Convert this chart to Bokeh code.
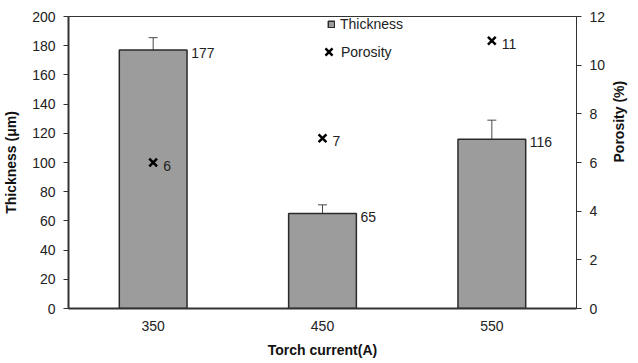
import math
from bokeh.plotting import figure
from bokeh.models import (FactorRange, Range1d, LinearAxis, ColumnDataSource, LabelSet,
                          Whisker, TeeHead, Legend, LegendItem, FixedTicker)
from bokeh.core.properties import value
from bokeh.embed import file_html
from bokeh.resources import INLINE

currents = ["350", "450", "550"]
thickness = [177, 65, 116]
thickness_err = [8.5, 6, 13]
porosity = [6, 7, 11]

FONT = "Liberation Sans"

src = ColumnDataSource(dict(
    x=currents, t=thickness,
    upper=[t + e for t, e in zip(thickness, thickness_err)],
    lower=[t - e for t, e in zip(thickness, thickness_err)],
    tl=[str(v) for v in thickness],
    p=porosity, pl=[str(v) for v in porosity],
))

p = figure(width=638, height=361, x_range=FactorRange(*currents), y_range=Range1d(0, 200),
           output_backend="svg", toolbar_location=None,
           min_border_left=67, min_border_right=55, min_border_top=16, min_border_bottom=53)
p.extra_y_ranges = {"por": Range1d(0, 12)}

bars = p.vbar(x="x", top="t", width=0.4, source=src, fill_color="#9c9c9c",
              line_color="#2a2a2a", line_width=1.5)
w = Whisker(base="x", upper="upper", lower="lower", source=src,
            line_color="#4a4a4a", line_width=1,
            upper_head=TeeHead(size=9, line_color="#4a4a4a", line_width=1),
            lower_head=TeeHead(size=9, line_color="#4a4a4a", line_width=1))
p.add_layout(w)
marks = p.scatter(x="x", y="p", source=src, y_range_name="por", marker="x",
                  size=11, line_color="black", line_width=2.5)

p.add_layout(LabelSet(x="x", y="t", text="tl", source=src, x_offset=38, y_offset=-8,
                      text_font=value(FONT), text_font_size="14px", text_color="#222"))
p.add_layout(LabelSet(x="x", y="p", text="pl", source=src, y_range_name="por",
                      x_offset=10, y_offset=-8,
                      text_font=value(FONT), text_font_size="14px", text_color="#222"))

leg1 = Legend(items=[LegendItem(label="Thickness", renderers=[bars])],
              location=(259, 274), background_fill_alpha=0, border_line_color=None,
              label_text_font=FONT, label_text_font_size="14px", label_text_color="#222",
              glyph_width=8, glyph_height=8, label_standoff=5, spacing=0, padding=0, margin=0,
              label_height=20)
leg2 = Legend(items=[LegendItem(label="Porosity", renderers=[marks])],
              location=(248, 244), background_fill_alpha=0, border_line_color=None,
              label_text_font=FONT, label_text_font_size="14px", label_text_color="#222",
              glyph_width=25, glyph_height=25, label_standoff=0, spacing=0, padding=0, margin=0,
              label_height=20)
p.add_layout(leg1)
p.add_layout(leg2)

p.xgrid.visible = False
p.ygrid.visible = False
p.outline_line_color = "#333333"
p.outline_line_width = 1

ax = p.xaxis[0]
ax.axis_label = "Torch current(A)"
ax.minor_tick_line_color = None
ax.major_tick_out = 0
ax.major_tick_in = 0
ax.axis_line_width = 2
ax.axis_line_color = "#333333"

ay = p.yaxis[0]
ay.axis_label = "Thickness (μm)"
ay.ticker = FixedTicker(ticks=list(range(0, 201, 20)))
ay.minor_tick_line_color = None
ay.major_tick_out = 5
ay.major_tick_in = 0
ay.axis_line_width = 2
ay.axis_line_color = "#333333"

ar = LinearAxis(y_range_name="por", axis_label="Porosity (%)",
                ticker=FixedTicker(ticks=list(range(0, 13, 2))))
ar.minor_tick_line_color = None
ar.major_tick_out = 5
ar.major_tick_in = 0
ar.axis_line_color = "#333333"
ar.axis_label_orientation = math.pi / 2
p.add_layout(ar, "right")

for a in (ax, ay, ar):
    a.major_label_text_font = FONT
    a.major_label_text_font_size = "14px"
    a.major_label_text_color = "#222"
    a.axis_label_text_font = FONT
    a.axis_label_text_font_size = "14px"
    a.axis_label_text_font_style = "bold"
    a.axis_label_text_color = "#111"
    a.major_tick_line_color = "#333" if a is not ax else None
ax.major_label_standoff = 12
ax.axis_label_standoff = 8
ay.major_label_standoff = 8
ay.axis_label_standoff = 10
ar.major_label_standoff = 8
ar.axis_label_standoff = 11

open("out.html", "w").write(file_html(p, INLINE))
